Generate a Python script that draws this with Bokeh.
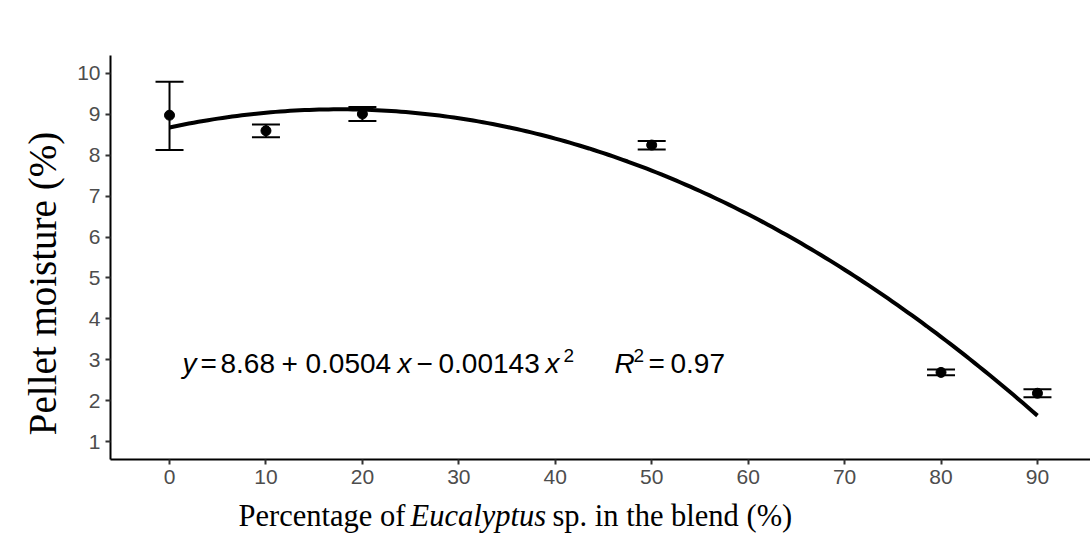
import math
import numpy as np
from bokeh.plotting import figure
from bokeh.layouts import row, column
from bokeh.models import ColumnDataSource, Whisker, TeeHead, Label, FixedTicker, Range1d
from bokeh.core.properties import value
from bokeh.embed import file_html
from bokeh.resources import INLINE

# ---- data ----
blend = [0, 10, 20, 50, 80, 90]                    # % Eucalyptus sp.
moisture = [8.98, 8.60, 9.01, 8.25, 2.69, 2.18]    # pellet moisture (%)
err_lower = [8.13, 8.44, 8.84, 8.14, 2.62, 2.08]
err_upper = [9.80, 8.75, 9.18, 8.35, 2.76, 2.28]
fit_coef = [8.68, 0.0504, -0.00143]                # y = a + b x + c x^2 (as printed)
x_ticks = [0, 10, 20, 30, 40, 50, 60, 70, 80, 90]
y_ticks = [1, 2, 3, 4, 5, 6, 7, 8, 9, 10]

# fitted curve from the printed equation
fit_x = np.linspace(0, 90, 181)
fit_y = fit_coef[0] + fit_coef[1] * fit_x + fit_coef[2] * fit_x ** 2

# ---- page geometry ----
W, H = 1090, 547
LEFT_W = 72            # strip holding the y title
MAIN_H = 500           # main plot height; x title strip below
FL, FR, FT, FB = 110, 1090, 55, 459
XS, XE = -6.12, 95.5
YS, YE = 0.56, 10.44
PXX = (FR - FL) / (XE - XS)
PXY = (FB - FT) / (YE - YS)

def dx(px):
    return XS + (px - FL) / PXX

def dy(py):
    return YS + (FB - py) / PXY

p = figure(width=W - LEFT_W, height=MAIN_H, output_backend="svg", toolbar_location=None,
           x_range=Range1d(XS, XE), y_range=Range1d(YS, YE),
           min_border_left=FL - LEFT_W, min_border_right=0,
           min_border_top=FT, min_border_bottom=MAIN_H - FB)
p.outline_line_color = None
p.background_fill_color = "white"
p.border_fill_color = "white"
p.grid.visible = False

for ax in (p.xaxis[0], p.yaxis[0]):
    ax.axis_line_color = "black"
    ax.axis_line_width = 2
    ax.major_tick_line_color = "#333333"
    ax.major_tick_line_width = 2
    ax.major_tick_out = 5
    ax.major_tick_in = 0
    ax.minor_tick_line_color = None
    ax.major_label_text_font = "Liberation Sans"
    ax.major_label_text_font_size = "21px"
    ax.major_label_text_color = "#4d4d4d"
    ax.major_label_standoff = 5
p.xaxis.ticker = FixedTicker(ticks=x_ticks)
p.yaxis.ticker = FixedTicker(ticks=y_ticks)

src = ColumnDataSource(dict(x=blend, y=moisture, lo=err_lower, hi=err_upper))

p.line(fit_x, fit_y, line_color="black", line_width=4)

wh = Whisker(source=src, base="x", lower="lo", upper="hi",
             line_color="black", line_width=2,
             upper_head=TeeHead(size=28, line_color="black", line_width=2),
             lower_head=TeeHead(size=28, line_color="black", line_width=2))
p.add_layout(wh)
p.scatter("x", "y", source=src, size=10, fill_color="black", line_color="black")

# ---- equation ----
EQ_FONT = "Liberation Sans"
eq_base = 363
sup_base = 355
pieces = [
    ("y", 182, eq_base, "28px", "italic"),
    ("=", 200, eq_base, "28px", "normal"),
    ("8.68", 220, eq_base, "28px", "normal"),
    ("+", 281, eq_base, "28px", "normal"),
    ("0.0504", 305, eq_base, "28px", "normal"),
    ("x", 397, eq_base, "28px", "italic"),
    ("\u2212", 416, eq_base, "28px", "normal"),
    ("0.00143", 438, eq_base, "28px", "normal"),
    ("x", 545, eq_base, "28px", "italic"),
    ("2", 563, sup_base, "19px", "normal"),
    ("R", 614, eq_base, "28px", "italic"),
    ("2", 633, sup_base, "19px", "normal"),
    ("=", 648, eq_base, "28px", "normal"),
    ("0.97", 670, eq_base, "28px", "normal"),
]
for t, px, py, fs, st in pieces:
    p.add_layout(Label(x=dx(px), y=dy(py), text=t, text_font=EQ_FONT,
                       text_font_size=fs, text_font_style=st, text_color="black",
                       text_align="left", text_baseline="alphabetic"))

# ---- axis titles (separate strips, so they are not clipped) ----
TF = "Liberation Serif"

py_strip = figure(width=LEFT_W, height=H, output_backend="svg", toolbar_location=None,
                  x_range=Range1d(0, LEFT_W), y_range=Range1d(0, H),
                  x_axis_type=None, y_axis_type=None, min_border=0)
py_strip.outline_line_color = None
py_strip.grid.visible = False
py_strip.text(x=[42], y=[H - 283], text=["Pellet moisture (%)"], angle=math.pi / 2,
              text_font=value(TF), text_font_size="39px", text_color="black",
              text_align="center", text_baseline="middle")

XH = H - MAIN_H
# frames in a column are aligned, so this strip shares the main x scale
px_strip = figure(width=W - LEFT_W, height=XH, output_backend="svg", toolbar_location=None,
                  x_range=Range1d(XS, XE), y_range=Range1d(MAIN_H, H),
                  x_axis_type=None, y_axis_type=None,
                  min_border_left=FL - LEFT_W, min_border_right=0,
                  min_border_top=0, min_border_bottom=0)
px_strip.outline_line_color = None
px_strip.grid.visible = False
xt_base = 515
xt_parts = [
    ("Percentage of", 238, "normal"),
    ("Eucalyptus", 410, "italic"),
    ("sp. in the blend (%)", 552, "normal"),
]
for t, px, st in xt_parts:
    px_strip.text(x=[dx(px)], y=[MAIN_H + H - xt_base], text=[t],
                  text_font=value(TF), text_font_size="30.5px", text_font_style=st,
                  text_color="black", text_align="left", text_baseline="alphabetic")

layout = row(py_strip, column(p, px_strip))
open("out.html", "w").write(file_html(layout, INLINE))
